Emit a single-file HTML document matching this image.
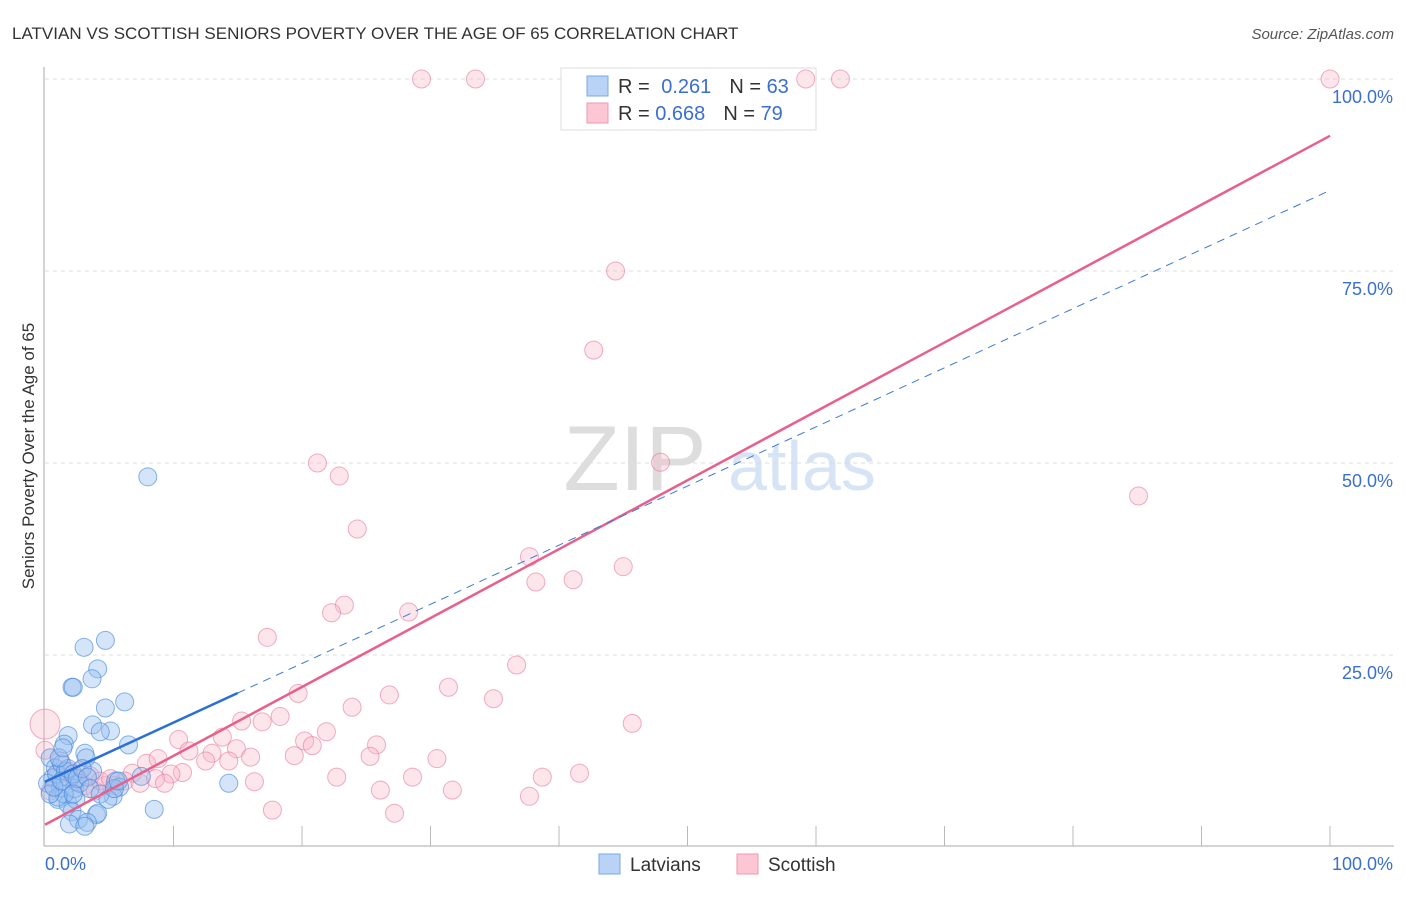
<!DOCTYPE html>
<html><head><meta charset="utf-8"><style>
body{margin:0;background:#fff;font-family:"Liberation Sans",sans-serif}
svg text{font-family:"Liberation Sans",sans-serif}
</style></head><body>
<svg id="c" width="1406" height="892">
<text x="12" y="39" font-size="17" fill="#333">LATVIAN VS SCOTTISH SENIORS POVERTY OVER THE AGE OF 65 CORRELATION CHART</text>
<text x="1394" y="39" font-size="15" fill="#555" font-style="italic" text-anchor="end">Source: ZipAtlas.com</text>
<text x="34" y="456" font-size="17" fill="#333" text-anchor="middle" transform="rotate(-90 34 456)">Seniors Poverty Over the Age of 65</text>
<g><text x="635" y="490" font-size="92" fill="#ddd" font-family="Liberation Serif,serif" text-anchor="middle">ZIP</text><text x="802" y="490" font-size="70" fill="#d6e4f5" text-anchor="middle">atlas</text></g>
<g id="grid"></g>
<g>
<rect x="561" y="68" width="255" height="62" fill="#fff" stroke="#ddd"/>
<rect x="587" y="76" width="21" height="20" fill="#b8d3f5" stroke="#7aaae6"/>
<rect x="587" y="103" width="21" height="20" fill="#fcc6d5" stroke="#ee98b2"/>
<text x="618" y="93" font-size="20" fill="#333">R = <tspan fill="#3a6fcf" dx="6">0.261</tspan><tspan dx="18" fill="#333">N = </tspan><tspan fill="#3a6fcf">63</tspan></text>
<text x="618" y="120" font-size="20" fill="#333">R = <tspan fill="#3a6fcf">0.668</tspan><tspan dx="18" fill="#333">N = </tspan><tspan fill="#3a6fcf">79</tspan></text>
</g>
<g id="pts"></g><g id="lines"></g>
<g>
<rect x="599" y="854" width="21" height="20" fill="#b8d3f5" stroke="#7aaae6"/><text x="630" y="871" font-size="19" fill="#333">Latvians</text>
<rect x="737" y="854" width="21" height="20" fill="#fcc6d5" stroke="#ee98b2"/><text x="768" y="871" font-size="19" fill="#333">Scottish</text>
</g>
</svg>
<script>
const yTicks=[25,50,75,100];
const xTickLabels=["0.0%","100.0%"];
const blueX=[8,3.04,4.7,4.1,3.66,2.1,2.2,6.2,4.7,3.7,5.1,4.3,6.5,1.8,1.5,3.1,3.2,3.7,5.5,5.8,7.5,5.3,8.5,14.3,1,1.8,2.4,2.1,4,4.1,2.6,3.3,1.9,3.1,0.4,0.8,0.6,1.2,0.2,0.9,1.3,1.6,1.9,2.3,2.7,1.5,1,0.4,0.7,1.3,1.8,2.2,2.5,2.9,3.3,3.5,4.3,4.9,5.4,5.7,2.2,1.1,1.4];
const blueY=[48.2,26,26.9,23.2,21.9,20.8,20.8,18.9,18.1,15.9,15.1,15,13.3,14.5,13.4,12.2,11.6,9.9,8.6,7.8,9.2,6.6,4.9,8.3,6.2,5.6,6.2,4.6,4.2,4.4,3.6,3.2,3,2.7,11.6,10.3,9,7.7,8.3,9.5,10.8,9.9,8.9,7.6,8.3,6.9,6.5,6.9,7.8,8.6,10.2,9.5,8.9,10.2,9.1,7.6,6.9,6.2,7.6,8.6,6.9,11.6,12.9];
const pinkX=[29.3,33.5,59.2,61.9,100,44.4,42.7,21.2,22.9,47.9,85.1,24.3,37.7,41.1,45,38.2,23.3,22.3,28.3,17.3,36.7,31.4,19.7,26.8,34.9,23.9,45.7,15.3,16.9,18.3,21.9,10.4,13.8,20.2,20.8,25.8,19.4,11.2,12.999,14.9,16,30.5,25.3,12.5,7.9,8.8,14.3,10.7,9.8,6.8,22.7,28.6,38.7,41.6,16.3,26.1,31.7,37.7,17.7,27.2,0,0,1.2,1.8,2.3,3.1,3.9,4.7,5.4,6.2,7.4,8.6,9.3,0.4,1,2.7,3.5,4.3,5.1];
const pinkY=[100,100,100,100,100,75,64.7,50,48.3,50.1,45.7,41.4,37.8,34.8,36.5,34.5,31.5,30.5,30.6,27.3,23.7,20.8,20,19.8,19.3,18.2,16.1,16.4,16.3,17,15,14,14.3,13.8,13.2,13.3,11.9,12.5,12.2,12.8,11.7,11.5,11.8,11.2,10.9,11.5,11.2,9.7,9.5,9.6,9.1,9.1,9.1,9.6,8.5,7.4,7.4,6.6,4.8,4.4,16,12.6,11.2,9.9,8.6,8,7.3,8,8,8.6,8.3,8.9,8.3,7.3,9.3,9.9,9.3,8.6,8.9];
const sx=v=>45+v*12.85, sy=v=>847-v*7.68;
const NS="http://www.w3.org/2000/svg";
function mk(p,t,a){const e=document.createElementNS(NS,t);for(const k in a)e.setAttribute(k,a[k]);p.appendChild(e);return e;}
const grid=document.getElementById('grid');
yTicks.forEach(t=>{
 const l=mk(grid,'line',{x1:45,x2:1394,y1:sy(t),y2:sy(t),stroke:'#ddd','stroke-dasharray':'4,4'});
 
 
 const tx=mk(grid,'text',{x:1393,y:sy(t)+24,'font-size':18,fill:'#3a6fcf','text-anchor':'end'});tx.textContent=t.toFixed(1)+'%';
 
 
});
const ax=mk(grid,'line',{x1:44,x2:44,y1:67,y2:846,stroke:'#aaa'});


const bx=mk(grid,'line',{x1:44,x2:1394,y1:846,y2:846,stroke:'#aaa'});


for(let i=1;i<=10;i++){const t=mk(grid,'line',{x1:sx(i*10),x2:sx(i*10),y1:826,y2:846,stroke:'#bbb'});
 
 }
[[0,'start',45],[100,'end',1393]].forEach(([v,a,x],i)=>{const t=mk(grid,'text',{x:x,y:870,'font-size':18,fill:'#3a6fcf','text-anchor':a});t.textContent=xTickLabels[i];
 
 });
const pts=document.getElementById('pts');
pinkX.forEach((x,i)=>{const c=mk(pts,'circle',{cx:sx(x),cy:sy(pinkY[i]),r:(x===0&&pinkY[i]===16)?15:9,fill:'rgba(248,180,200,0.35)',stroke:'rgba(232,120,155,0.6)'});
 
 });
blueX.forEach((x,i)=>{const c=mk(pts,'circle',{cx:sx(x),cy:sy(blueY[i]),r:9,fill:'rgba(150,190,240,0.4)',stroke:'rgba(60,130,220,0.6)'});
 
 });
const L=document.getElementById('lines');
const pl=mk(L,'line',{x1:sx(0),y1:sy(2.9),x2:sx(100),y2:sy(92.6),stroke:'#e8608a','stroke-width':2.5});


const bd=mk(L,'line',{x1:sx(15),y1:sy(8.5+0.77*15),x2:sx(100),y2:sy(85.5),stroke:'#3a7ad8','stroke-width':1,'stroke-dasharray':'8,6'});


const bl=mk(L,'line',{x1:sx(0),y1:sy(8.5),x2:sx(15),y2:sy(8.5+0.77*15),stroke:'#2a6fd6','stroke-width':2.5});


</script>
</body></html>
